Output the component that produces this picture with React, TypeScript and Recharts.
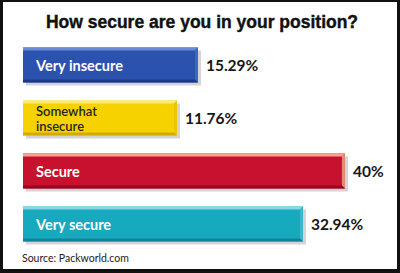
import { BarChart, Bar, XAxis, YAxis, LabelList } from 'recharts'

const categories = ['Very insecure', 'Somewhat insecure', 'Secure', 'Very secure']
const shares = [15.29, 11.76, 40, 32.94]

const title = 'How secure are you in your position?'
const source = 'Source: Packworld.com'

// face colour plus the three bevel strips and caption colour for each bar
const palette = [
  { face: '#2b52ae', top: '#6a8ad6', side: '#4166c2', bottom: '#1b3b8a', text: '#ffffff' },
  { face: '#f6d300', top: '#fde97a', side: '#ecc600', bottom: '#d3a900', text: '#26262b' },
  { face: '#c8102f', top: '#f0a58c', side: '#e98b74', bottom: '#96081f', text: '#ffffff' },
  { face: '#17a9be', top: '#86d7e3', side: '#3bb8ca', bottom: '#0e8597', text: '#ffffff' },
]

// bars leave room for their caption, so the value axis starts below zero
const AXIS_MIN = -14.12
const AXIS_MAX = 45

const rows = categories.map((name, i) => ({
  name,
  value: shares[i],
  span: [AXIS_MIN, shares[i]],
}))

const FONT = 'Lato, "Liberation Sans", sans-serif'

function BevelBar(props: any) {
  const { x, y, width, height, payload } = props
  const c = palette[categories.indexOf(payload?.name)] ?? palette[0]
  const b = 3
  const r = x + width
  const btm = y + height
  return (
    <g>
      <rect x={x + 3} y={y + 3} width={width} height={height} fill="#d4d4d4" />
      <rect x={x} y={y} width={width} height={height} fill={c.face} />
      <polygon points={`${x},${y} ${r},${y} ${r - b},${y + b} ${x},${y + b}`} fill={c.top} />
      <polygon points={`${r},${y} ${r},${btm} ${r - b},${btm - b} ${r - b},${y + b}`} fill={c.side} />
      <polygon points={`${x},${btm - b} ${r - b},${btm - b} ${r},${btm} ${x},${btm}`} fill={c.bottom} />
    </g>
  )
}

function CaptionLabel(props: any) {
  const { x, y, height, value } = props
  const c = palette[categories.indexOf(value)] ?? palette[0]
  const text = String(value)
  // long captions go on two lines
  const cut = text.indexOf(' ')
  const lines = text.length > 14 ? [text.slice(0, cut), text.slice(cut + 1)] : [text]
  const heavy = lines.length === 1
  const size = heavy ? 14.5 : 13
  const lh = 15
  const cy = y + height / 2
  return (
    <g>
      {lines.map((ln, i) => (
        <text
          key={ln}
          x={x + 13}
          y={cy + (i - (lines.length - 1) / 2) * lh}
          fill={c.text}
          fontFamily={FONT}
          fontSize={size}
          fontWeight={heavy ? 700 : 600}
          dominantBaseline="central"
        >
          {ln}
        </text>
      ))}
    </g>
  )
}

function ValueLabel(props: any) {
  const { x, y, width, height, value } = props
  return (
    <text
      x={x + width + 8}
      y={y + height / 2}
      fill="#161616"
      fontFamily={FONT}
      fontSize={15.5}
      fontWeight={700}
      dominantBaseline="central"
    >
      {`${value}%`}
    </text>
  )
}

export default function App() {
  return (
    <div style={{ position: 'absolute', left: 0, top: 0, width: 400, height: 273, background: '#fff' }}>
      <BarChart
        width={400}
        height={273}
        layout="vertical"
        data={rows}
        margin={{ top: 38.5, right: 25.3, bottom: 22.5, left: 23 }}
        barCategoryGap={9}
      >
        <XAxis type="number" domain={[AXIS_MIN, AXIS_MAX]} hide allowDataOverflow />
        <YAxis type="category" dataKey="name" hide />
        <Bar dataKey="span" shape={BevelBar} isAnimationActive={false}>
          <LabelList dataKey="name" content={CaptionLabel} />
          <LabelList dataKey="value" content={ValueLabel} />
        </Bar>
      </BarChart>
      <svg width={400} height={273} style={{ position: 'absolute', left: 0, top: 0, pointerEvents: 'none' }}>
        <text
          x={202}
          y={28}
          textAnchor="middle"
          fill="#111"
          stroke="#111"
          strokeWidth={0.4}
          fontFamily='"Liberation Sans", sans-serif'
          fontWeight={700}
          fontSize={17.5}
        >
          {title}
        </text>
        <text
          x={22}
          y={261.5}
          fill="#222"
          fontFamily={FONT}
          fontSize={10.5}
        >
          {source}
        </text>
      </svg>
      <div
        style={{
          position: 'absolute',
          left: 0,
          top: 0,
          width: 400,
          height: 273,
          boxSizing: 'border-box',
          borderStyle: 'solid',
          borderColor: '#111',
          borderWidth: '2px 3px 4px 3px',
          pointerEvents: 'none',
        }}
      />
    </div>
  )
}
